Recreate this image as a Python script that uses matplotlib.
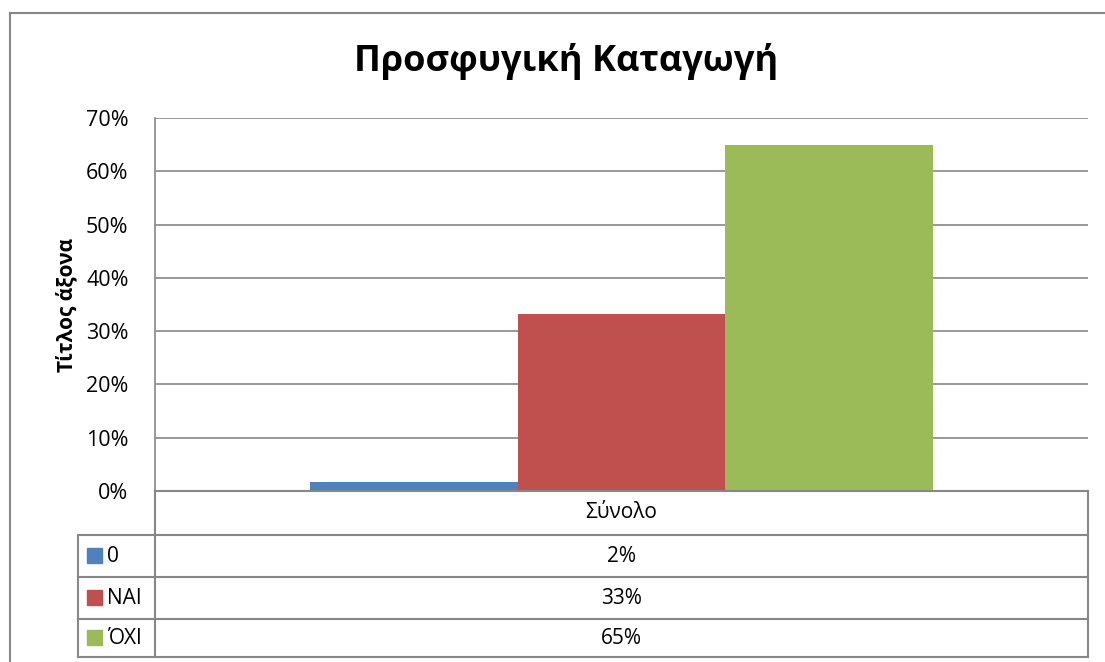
import matplotlib.pyplot as plt
from matplotlib.patches import Rectangle
from matplotlib.lines import Line2D

plt.rcParams['font.family'] = ['Open Sans', 'DejaVu Sans']

# data
title = 'Προσφυγική Καταγωγή'
y_label = 'Τίτλος άξονα'
category = 'Σύνολο'
series = ['0', 'ΝΑΙ', 'ΌΧΙ']
values = [1.6, 33.3, 65.0]
table_labels = ['2%', '33%', '65%']
colors = ['#4f81bd', '#c0504d', '#9bbb59']
yticks = [0, 10, 20, 30, 40, 50, 60, 70]

W, H = 1105, 662
fig = plt.figure(figsize=(W / 100, H / 100), dpi=100)
grid_c = '#878787'

def fx(px):
    return px / W

def fy(py):
    return 1 - py / H

# outer chart border (top + left visible)
fig.add_artist(Line2D([fx(10), fx(10)], [fy(13), fy(662)], color=grid_c, lw=1.5))
fig.add_artist(Line2D([fx(10), fx(1105)], [fy(13), fy(13)], color=grid_c, lw=1.5))

# plot area
L, T, R, B = 155, 118, 1088, 491
ax = fig.add_axes([fx(L), fy(B), fx(R - L), (B - T) / H])
n = len(series)
bw = 0.667 / n
for i, (v, c) in enumerate(zip(values, colors)):
    ax.bar(-0.3335 + bw * (i + 0.5), v, width=bw, color=c, zorder=3)
ax.set_xlim(-0.5, 0.5)
ax.set_ylim(0, 70)
ax.set_yticks(yticks)
ax.set_yticklabels([f'{t}%' for t in yticks], fontsize=15.5)
ax.set_xticks([])
ax.grid(axis='y', color=grid_c, lw=1.2, zorder=0)
for s in ['top', 'right', 'bottom']:
    ax.spines[s].set_visible(False)
ax.spines['left'].set_color(grid_c)
ax.spines['left'].set_linewidth(1.2)
ax.tick_params(axis='y', length=0, pad=19)
ax.set_ylabel(y_label, fontsize=15, fontweight='bold', labelpad=6)

fig.text(0.512, fy(62), title, fontsize=26, fontweight='bold', ha='center', va='center')

# data table
rows_y = [491, 535, 577, 619, 657]
for yy in rows_y[1:]:
    fig.add_artist(Line2D([fx(78), fx(R)], [fy(yy), fy(yy)], color=grid_c, lw=1.5))
fig.add_artist(Line2D([fx(L), fx(R)], [fy(491), fy(491)], color=grid_c, lw=1.5))
fig.add_artist(Line2D([fx(L), fx(L)], [fy(491), fy(657)], color=grid_c, lw=1.5))
fig.add_artist(Line2D([fx(R), fx(R)], [fy(491), fy(657)], color=grid_c, lw=1.5))
fig.add_artist(Line2D([fx(78), fx(78)], [fy(535), fy(657)], color=grid_c, lw=1.5))

fig.text(fx((L + R) / 2), fy((491 + 535) / 2), category, fontsize=15, ha='center', va='center')
for i in range(n):
    yc = (rows_y[i + 1] + rows_y[i + 2]) / 2
    fig.add_artist(Rectangle((fx(87), fy(yc + 7)), fx(15), 15 / H, color=colors[i]))
    fig.text(fx(107), fy(yc), series[i], fontsize=15, ha='left', va='center')
    fig.text(fx((L + R) / 2), fy(yc), table_labels[i], fontsize=15, ha='center', va='center')

fig.savefig('out.png', dpi=100, facecolor='white')
